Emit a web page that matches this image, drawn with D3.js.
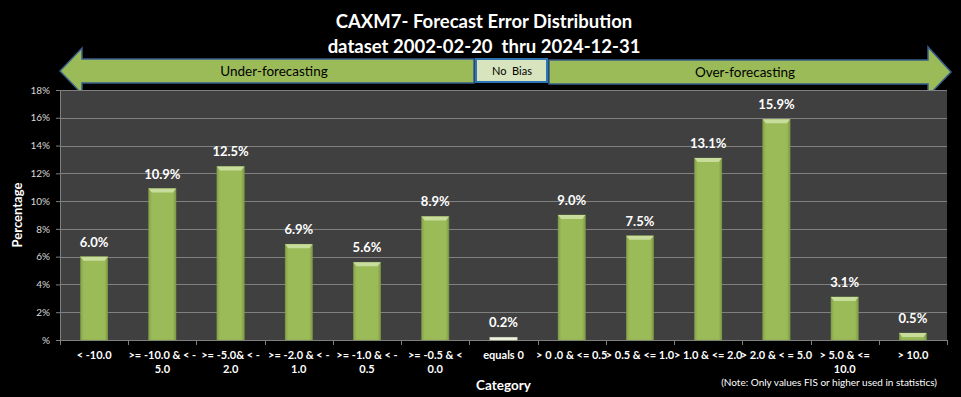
<!DOCTYPE html>
<html>
<head>
<meta charset="utf-8">
<script src="https://cdn.jsdelivr.net/npm/d3@7"></script>
<style>
  body { margin: 0; background: #000; }
  svg { display: block; font-family: Lato, "Open Sans", sans-serif; }
</style>
</head>
<body>
<div id="chart"></div>
<script>
const categories = [
  ["< -10.0"],
  [">= -10.0 & < -", "5.0"],
  [">= -5.0& < -", "2.0"],
  [">= -2.0 & < -", "1.0"],
  [">= -1.0 & < -", "0.5"],
  [">= -0.5 & <", "0.0"],
  ["equals 0"],
  ["> 0 .0 & <= 0.5"],
  ["> 0.5 & <= 1.0"],
  ["> 1.0 & <= 2.0"],
  ["> 2.0 & < = 5.0"],
  ["> 5.0 & <=", "10.0"],
  ["> 10.0"]
];
const percentages = [6.0, 10.9, 12.5, 6.9, 5.6, 8.9, 0.2, 9.0, 7.5, 13.1, 15.9, 3.1, 0.5];
const yTicks = [0, 2, 4, 6, 8, 10, 12, 14, 16, 18];
const titleLines = ["CAXM7- Forecast Error Distribution", "dataset 2002-02-20\u00a0 thru 2024-12-31"];

const width = 961, height = 397;
const margin = { top: 90, right: 14, bottom: 57, left: 60 };
const plotW = width - margin.left - margin.right,
      plotH = height - margin.top - margin.bottom;

const svg = d3.select("#chart").append("svg")
  .attr("width", width)
  .attr("height", height);

const defs = svg.append("defs");
const grad = defs.append("linearGradient").attr("id", "barGrad")
  .attr("x1", 0).attr("x2", 1).attr("y1", 0).attr("y2", 0);
grad.append("stop").attr("offset", "0%").attr("stop-color", "#86a34a");
grad.append("stop").attr("offset", "12%").attr("stop-color", "#9bbb59");
grad.append("stop").attr("offset", "88%").attr("stop-color", "#9bbb59");
grad.append("stop").attr("offset", "100%").attr("stop-color", "#7e9a45");

// title
svg.append("g").selectAll("text")
  .data(titleLines)
  .enter().append("text")
  .attr("x", 484)
  .attr("y", (d, i) => 28 + i * 25)
  .attr("text-anchor", "middle")
  .attr("fill", "#fff")
  .attr("font-weight", "bold")
  .attr("font-size", 18.5)
  .text(d => d);

// bias arrows
const arrows = svg.append("g");
arrows.append("polygon")
  .attr("points", "60,71 82,48 82,59 474,59 474,83 82,83 82,94")
  .attr("fill", "#9bbb59").attr("stroke", "#385d8a").attr("stroke-width", 1.5);
arrows.append("polygon")
  .attr("points", "549,60 928,60 928,47 951,72 928,96 928,84 549,84")
  .attr("fill", "#9bbb59").attr("stroke", "#385d8a").attr("stroke-width", 1.5);
arrows.append("rect")
  .attr("x", 476).attr("y", 59).attr("width", 71).attr("height", 23)
  .attr("fill", "#d7e4bd").attr("stroke", "#2e75b6").attr("stroke-width", 2);
arrows.append("text").attr("x", 274).attr("y", 76).attr("text-anchor", "middle")
  .attr("font-size", 13.5).attr("fill", "#000").text("Under-forecasting");
arrows.append("text").attr("x", 745).attr("y", 77).attr("text-anchor", "middle")
  .attr("font-size", 13.5).attr("fill", "#000").text("Over-forecasting");
arrows.append("text").attr("x", 512).attr("y", 75).attr("text-anchor", "middle")
  .attr("font-size", 11).attr("fill", "#000").text("No\u00a0\u00a0Bias");

const g = svg.append("g")
  .attr("transform", "translate(" + margin.left + "," + margin.top + ")");

const x = d3.scaleBand()
  .domain(d3.range(categories.length))
  .range([0, plotW])
  .paddingInner(0.6)
  .paddingOuter(0.3);
const step = x.step();

const y = d3.scaleLinear().domain([0, 18]).range([plotH, 0]);

g.append("rect")
  .attr("width", plotW).attr("height", plotH)
  .attr("fill", "#404040");

// gridlines
g.append("g").selectAll("line")
  .data(yTicks.filter(d => d > 0))
  .enter().append("line")
  .attr("x1", 0).attr("x2", plotW)
  .attr("y1", d => Math.round(y(d)) + 0.5).attr("y2", d => Math.round(y(d)) + 0.5)
  .attr("stroke", "#808080");

// y axis
const yAxis = g.append("g")
  .call(d3.axisLeft(y).tickValues(yTicks).tickSize(4).tickFormat(d => d === 0 ? "%" : d + "%"));
yAxis.select(".domain").attr("stroke", "#808080");
yAxis.selectAll(".tick line").attr("stroke", "#808080");
yAxis.selectAll(".tick text")
  .attr("fill", "#d9d9d9").attr("font-size", 10).attr("x", -10)
  .attr("font-family", "Lato, sans-serif");

// x axis line and boundary ticks
const xAxisG = g.append("g").attr("transform", "translate(0," + plotH + ")");
xAxisG.append("line").attr("x1", 0).attr("x2", plotW).attr("y1", 0.5).attr("y2", 0.5)
  .attr("stroke", "#808080");
xAxisG.selectAll(".bound")
  .data(d3.range(categories.length + 1))
  .enter().append("line")
  .attr("class", "bound")
  .attr("x1", d => Math.round(d * step) + 0.5).attr("x2", d => Math.round(d * step) + 0.5)
  .attr("y1", 0).attr("y2", 5)
  .attr("stroke", "#808080");

// category labels
const catLabels = xAxisG.selectAll(".cat")
  .data(categories)
  .enter().append("text")
  .attr("class", "cat")
  .attr("text-anchor", "middle")
  .attr("fill", "#fff")
  .attr("font-weight", "bold")
  .attr("font-size", 11)
  .attr("transform", (d, i) => "translate(" + (x(i) + x.bandwidth() / 2) + ",0)");
catLabels.selectAll("tspan")
  .data(d => d)
  .enter().append("tspan")
  .attr("x", 0)
  .attr("y", (d, i) => 19 + i * 14)
  .text(d => d);

// bars
const barData = percentages.map((v, i) => ({ v: v, i: i, zero: categories[i][0] === "equals 0" }));

const bars = g.append("g").selectAll("g")
  .data(barData)
  .enter().append("g");

bars.append("rect")
  .attr("x", d => x(d.i))
  .attr("y", d => y(d.v))
  .attr("width", x.bandwidth())
  .attr("height", d => plotH - y(d.v))
  .attr("fill", d => d.zero ? "#eef3e2" : "url(#barGrad)")
  .attr("stroke", d => d.zero ? "#c9d5ae" : "#819e48")
  .attr("stroke-width", 0.5);

bars.filter(d => !d.zero)
  .append("polygon")
  .attr("points", d => {
    const x0 = x(d.i), x1 = x(d.i) + x.bandwidth(), y0 = y(d.v);
    return [[x0, y0], [x1, y0], [x1 - 3, y0 + 4], [x0 + 3, y0 + 4]].map(p => p.join(",")).join(" ");
  })
  .attr("fill", "#c8dc9c");

// data labels
g.append("g").selectAll("text")
  .data(barData)
  .enter().append("text")
  .attr("x", d => x(d.i) + x.bandwidth() / 2)
  .attr("y", d => y(d.v) - 10)
  .attr("text-anchor", "middle")
  .attr("fill", "#fff")
  .attr("font-weight", "bold")
  .attr("font-size", 13)
  .text(d => d.v.toFixed(1) + "%");

// axis titles
svg.append("text")
  .attr("transform", "translate(22," + (margin.top + plotH / 2) + ") rotate(-90)")
  .attr("text-anchor", "middle")
  .attr("fill", "#fff").attr("font-weight", "bold").attr("font-size", 13)
  .text("Percentage");

svg.append("text")
  .attr("x", margin.left + plotW / 2).attr("y", 390)
  .attr("text-anchor", "middle")
  .attr("fill", "#fff").attr("font-weight", "bold").attr("font-size", 13.5)
  .text("Category");

svg.append("text")
  .attr("x", 937).attr("y", 386)
  .attr("text-anchor", "end")
  .attr("fill", "#fff").attr("font-size", 10)
  .text("(Note: Only values FIS or higher used in statistics)");
</script>
</body>
</html>
